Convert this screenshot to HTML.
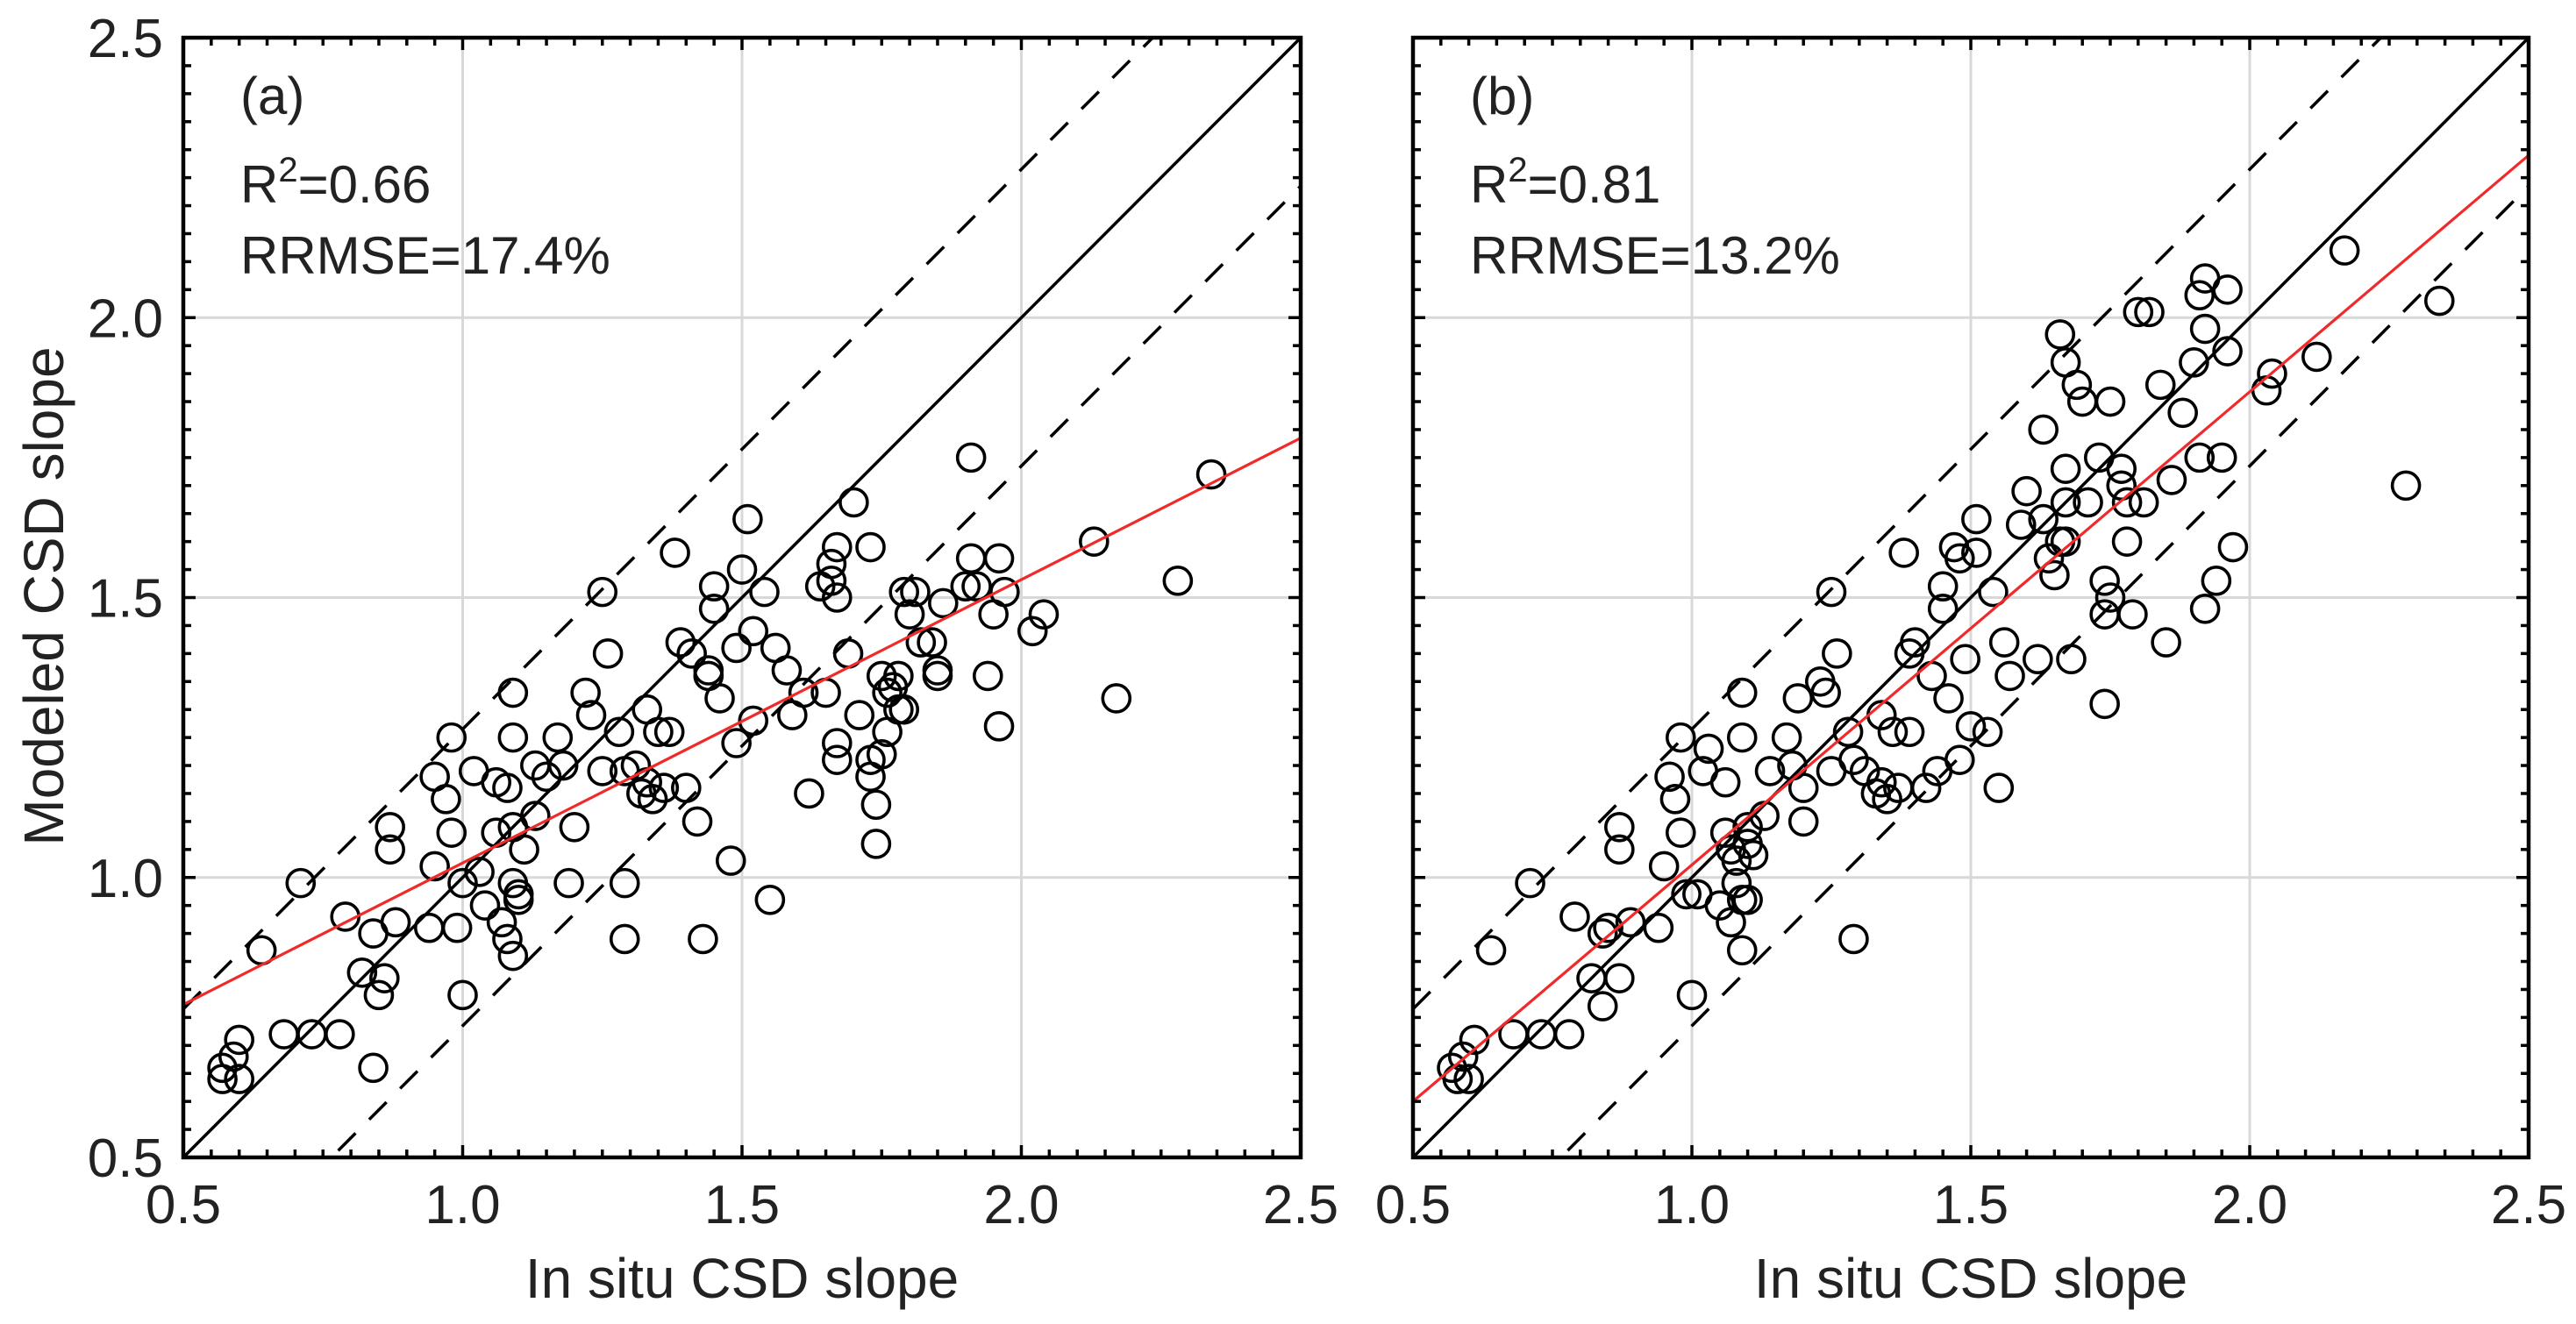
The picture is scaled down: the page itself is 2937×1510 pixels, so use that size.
<!DOCTYPE html>
<html><head><meta charset="utf-8"><style>
html,body{margin:0;padding:0;background:#fff;}
svg{display:block;font-family:"Liberation Sans",Arial,sans-serif;}
</style></head><body>
<svg id="chart" width="2937" height="1510" viewBox="0 0 2937 1510" xmlns="http://www.w3.org/2000/svg">
<rect width="2937" height="1510" fill="#fff"/>
</svg>
<script>
const xTicks=[0.5,1.0,1.5,2.0,2.5];
const yTicks=[0.5,1.0,1.5,2.0,2.5];
const tickLabels=["0.5","1.0","1.5","2.0","2.5"];
const panelLabels=["(a)","(b)"];
const r2Values=["0.66","0.81"];
const rrmseValues=["17.4%","13.2%"];
const fitA=[0.773,1.785]; // red fit y at x=0.5 and x=2.5
const fitB=[0.60,2.29];
const bandOffset=0.265;
const aX=[0.57,0.57,0.59,0.60,0.60,0.64,0.68,0.71,0.73,0.78,0.79,0.84,0.82,0.84,0.85,0.86,0.87,0.87,0.88,0.94,0.95,0.95,0.97,0.98,0.98,0.99,1.00,1.00,1.02,1.03,1.04,1.06,1.06,1.07,1.08,1.08,1.09,1.09,1.09,1.09,1.09,1.10,1.10,1.11,1.13,1.13,1.15,1.17,1.18,1.19,1.20,1.22,1.23,1.25,1.25,1.29,1.26,1.29,1.28,1.29,1.31,1.32,1.33,1.33,1.34,1.35,1.36,1.37,1.38,1.39,1.40,1.41,1.42,1.43,1.44,1.44,1.45,1.45,1.46,1.48,1.49,1.49,1.50,1.51,1.52,1.52,1.54,1.55,1.56,1.58,1.59,1.61,1.62,1.64,1.65,1.66,1.66,1.67,1.67,1.67,1.67,1.69,1.70,1.71,1.73,1.73,1.73,1.74,1.74,1.75,1.75,1.76,1.76,1.77,1.78,1.78,1.79,1.79,1.80,1.81,1.82,1.84,1.85,1.85,1.86,1.90,1.91,1.91,1.92,1.94,1.95,1.96,1.96,1.97,2.02,2.04,2.13,2.17,2.28,2.34];
const aY=[0.66,0.64,0.68,0.71,0.64,0.87,0.72,0.99,0.72,0.72,0.93,0.66,0.83,0.90,0.79,0.82,1.09,1.05,0.92,0.91,1.02,1.18,1.14,1.08,1.25,0.91,0.79,0.99,1.19,1.01,0.95,1.17,1.08,0.92,1.16,0.89,0.86,1.33,1.25,1.09,0.99,0.97,0.96,1.05,1.11,1.20,1.18,1.25,1.20,0.99,1.09,1.33,1.29,1.51,1.19,0.99,1.40,0.89,1.26,1.19,1.20,1.15,1.30,1.17,1.14,1.26,1.16,1.26,1.58,1.42,1.16,1.40,1.10,0.89,1.36,1.37,1.52,1.48,1.32,1.03,1.24,1.41,1.55,1.64,1.28,1.44,1.51,0.96,1.41,1.37,1.29,1.33,1.15,1.52,1.33,1.56,1.53,1.59,1.24,1.21,1.50,1.40,1.67,1.29,1.21,1.18,1.59,1.06,1.13,1.36,1.22,1.33,1.26,1.34,1.30,1.36,1.30,1.51,1.47,1.51,1.42,1.42,1.37,1.36,1.49,1.52,1.75,1.57,1.52,1.36,1.47,1.27,1.57,1.51,1.44,1.47,1.60,1.32,1.53,1.72];
const bX=[0.57,0.58,0.59,0.61,0.60,0.64,0.68,0.71,0.73,0.78,0.79,0.82,0.84,0.84,0.85,0.87,0.87,0.87,0.89,0.94,0.95,0.96,0.97,0.98,0.98,0.99,1.00,1.01,1.03,1.02,1.05,1.06,1.06,1.07,1.07,1.08,1.08,1.09,1.09,1.09,1.09,1.10,1.10,1.10,1.11,1.13,1.14,1.17,1.18,1.19,1.20,1.20,1.23,1.24,1.25,1.25,1.26,1.28,1.29,1.29,1.31,1.33,1.34,1.34,1.35,1.36,1.37,1.38,1.39,1.39,1.40,1.42,1.43,1.44,1.45,1.45,1.46,1.47,1.48,1.48,1.49,1.50,1.51,1.51,1.53,1.54,1.55,1.56,1.57,1.59,1.60,1.62,1.63,1.63,1.64,1.65,1.66,1.66,1.67,1.67,1.67,1.67,1.68,1.69,1.70,1.71,1.73,1.74,1.74,1.74,1.75,1.75,1.77,1.77,1.78,1.78,1.79,1.80,1.81,1.82,1.84,1.85,1.86,1.88,1.90,1.91,1.91,1.92,1.92,1.92,1.94,1.95,1.96,1.96,1.97,2.03,2.04,2.12,2.17,2.28,2.34];
const bY=[0.66,0.64,0.68,0.71,0.64,0.87,0.72,0.99,0.72,0.72,0.93,0.82,0.77,0.90,0.91,0.82,1.09,1.05,0.92,0.91,1.02,1.18,1.14,1.08,1.25,0.97,0.79,0.97,1.23,1.19,0.95,1.17,1.08,0.92,1.05,1.03,0.99,0.96,0.87,1.33,1.25,1.06,1.09,0.96,1.04,1.11,1.19,1.25,1.20,1.32,1.10,1.16,1.35,1.33,1.51,1.19,1.40,1.26,0.89,1.21,1.19,1.15,1.29,1.17,1.14,1.26,1.16,1.58,1.26,1.40,1.42,1.16,1.36,1.19,1.52,1.48,1.32,1.59,1.57,1.21,1.39,1.27,1.64,1.58,1.26,1.51,1.16,1.42,1.36,1.63,1.69,1.39,1.64,1.80,1.57,1.54,1.60,1.97,1.73,1.92,1.67,1.60,1.39,1.88,1.85,1.67,1.75,1.53,1.31,1.47,1.50,1.85,1.70,1.73,1.60,1.67,1.47,2.01,1.67,2.01,1.88,1.42,1.71,1.83,1.92,2.04,1.75,1.98,2.07,1.48,1.53,1.75,1.94,2.05,1.59,1.87,1.90,1.93,2.12,1.70,2.03,2.34];

const NS="http://www.w3.org/2000/svg";
const svg=document.getElementById('chart');
const T=43,B=1320;
function mk(tag,attrs,parent){const e=document.createElementNS(NS,tag);for(const k in attrs)e.setAttribute(k,attrs[k]);(parent||svg).appendChild(e);return e;}

function panel(idx,L,R,xs,ys,fit,showY){
  const g=mk('g',{});
  
  
  const sx=v=>L+(v-0.5)/2*(R-L);
  const sy=v=>B-(v-0.5)/2*(B-T);
  // grid
  for(let i=1;i<xTicks.length-1;i++){
    const l=mk('line',{x1:sx(xTicks[i]),x2:sx(xTicks[i]),y1:T,y2:B,stroke:'#d8d8d8','stroke-width':3},g);
    
    
  }
  for(let i=1;i<yTicks.length-1;i++){
    const l=mk('line',{x1:L,x2:R,y1:sy(yTicks[i]),y2:sy(yTicks[i]),stroke:'#d8d8d8','stroke-width':3},g);
    
    
  }
  const clipId='clip'+idx;
  const cp=mk('clipPath',{id:clipId},g);mk('rect',{x:L,y:T,width:R-L,height:B-T},cp);
  const cg=mk('g',{'clip-path':'url(#'+clipId+')'},g);
  // 1:1 line
  const one=mk('line',{x1:sx(0.5),y1:sy(0.5),x2:sx(2.5),y2:sy(2.5),stroke:'#000','stroke-width':3.5},cg);
  
  
  [bandOffset,-bandOffset].forEach((o,k)=>{
    const d=mk('line',{x1:sx(0.5),y1:sy(0.5+o),x2:sx(2.5),y2:sy(2.5+o),stroke:'#000','stroke-width':3.5,'stroke-dasharray':'28,22'},cg);
    
    
  });
  for(let i=0;i<xs.length;i++){
    const c=mk('circle',{cx:sx(xs[i]),cy:sy(ys[i]),r:15.5,fill:'none',stroke:'#000','stroke-width':3.6},cg);
    
    
  }
  const fl=mk('line',{x1:sx(0.5),y1:sy(fit[0]),x2:sx(2.5),y2:sy(fit[1]),stroke:'#f02a2a','stroke-width':3.2},cg);
  
  
  // minor ticks
  for(let v=0.55;v<2.5;v+=0.05){
    const major=Math.abs(v*2-Math.round(v*2))<1e-6;
    const len=major?14:9;
    const x=sx(v),y=sy(v);
    mk('line',{x1:x,x2:x,y1:B,y2:B-len,stroke:'#000','stroke-width':3.5},g);
    mk('line',{x1:x,x2:x,y1:T,y2:T+len,stroke:'#000','stroke-width':3.5},g);
    mk('line',{x1:L,x2:L+len,y1:y,y2:y,stroke:'#000','stroke-width':3.5},g);
    mk('line',{x1:R,x2:R-len,y1:y,y2:y,stroke:'#000','stroke-width':3.5},g);
  }
  const fr=mk('rect',{x:L,y:T,width:R-L,height:B-T,fill:'none',stroke:'#000','stroke-width':4.5},g);
  
  
  // tick labels
  for(let i=0;i<xTicks.length;i++){
    const t=mk('text',{x:sx(xTicks[i]),y:1395,'text-anchor':'middle','font-size':62,fill:'#222'},g);
    t.textContent=tickLabels[i];
    
    
  }
  if(showY){
    for(let i=0;i<yTicks.length;i++){
      const t=mk('text',{x:186,y:sy(yTicks[i])+22,'text-anchor':'end','font-size':62,fill:'#222'},g);
      t.textContent=tickLabels[i];
      
      
    }
  }
  const xt=mk('text',{x:(L+R)/2,y:1480,'text-anchor':'middle','font-size':64,fill:'#222'},g);
  xt.textContent='In situ CSD slope';
  
  
  const ax=L+65;
  const pl=mk('text',{x:ax,y:130,'font-size':60,fill:'#222'},g);
  pl.textContent=panelLabels[idx];
  
  
  const r2=mk('text',{x:ax,y:231,'font-size':60,fill:'#222'},g);
  
  
  const t1=mk('tspan',{},r2);t1.textContent='R';
  const t2=mk('tspan',{dy:-24,'font-size':40},r2);t2.textContent='2';
  const t3=mk('tspan',{dy:24},r2);t3.textContent='='+r2Values[idx];
  const rm=mk('text',{x:ax,y:312,'font-size':60,fill:'#222'},g);
  rm.textContent='RRMSE='+rrmseValues[idx];
  
  
}
panel(0,209,1483,aX,aY,fitA,true);
panel(1,1611,2883,bX,bY,fitB,false);
const yt=mk('text',{x:0,y:0,'text-anchor':'middle','font-size':64,fill:'#222',transform:'translate(72,680) rotate(-90)'});
yt.textContent='Modeled CSD slope';


</script>
</body></html>
